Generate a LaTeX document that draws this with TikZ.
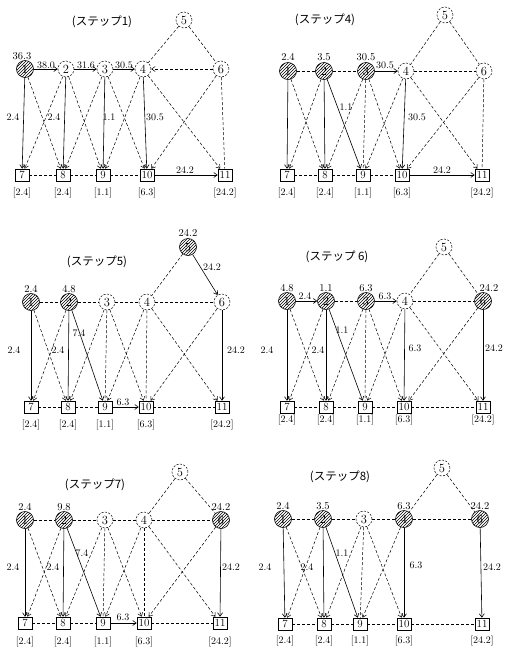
\documentclass[tikz,border=0pt]{standalone}
\usepackage{fontspec}
\newfontfamily\jpfont{Noto Sans CJK JP}
\usetikzlibrary{arrows.meta,patterns}
\begin{document}
\begin{tikzpicture}[x=1pt,y=-1pt,
  pend/.style={circle,draw,dash pattern=on 2pt off 1.5pt,line width=0.5pt,minimum size=16pt,inner sep=0pt,font=\fontsize{12.5}{12.5}\selectfont},
  fixd/.style={circle,draw,line width=0.6pt,pattern=north east lines,minimum size=17pt,inner sep=0pt,font=\fontsize{12.5}{12.5}\selectfont},
  bx/.style={rectangle,draw,line width=0.6pt,minimum width=14pt,minimum height=12pt,inner sep=0pt,font=\fontsize{11}{11}\selectfont},
  lab/.style={inner sep=0pt,font=\fontsize{10}{10}\selectfont},
  val/.style={inner sep=0pt,font=\fontsize{10.5}{10.5}\selectfont},
  res/.style={inner sep=0pt,font=\fontsize{10}{10}\selectfont},
  ttl/.style={inner sep=0pt,font=\jpfont\fontsize{11.5}{11.5}\selectfont},
  tip/.style={-{Straight Barb[length=3.5pt,width=5pt]}},
  fl/.style={draw,line width=0.6pt,tip},
  dl/.style={draw,line width=0.5pt,dash pattern=on 3pt off 2pt},
  da/.style={dl,tip},
]
\useasboundingbox (0,0) rectangle (504,654);

% ---------------- step 1 ----------------
\node[ttl] (ta) at (102,22) {(ステップ1)};
\node[fixd] (a1) at (25,69) {1};
\node[pend] (a2) at (66,69) {2};
\node[pend] (a3) at (105,69) {3};
\node[pend] (a4) at (143,69) {4};
\node[pend] (a5) at (184,20) {5};
\node[pend] (a6) at (221,69) {6};
\node[bx] (a7) at (22,175) {7};
\node[bx] (a8) at (63,175) {8};
\node[bx] (a9) at (103,175) {9};
\node[bx] (a10) at (147,175) {10};
\node[bx] (a11) at (225,175) {11};
\node[res] (ra7) at (22,193) {[2.4]};
\node[res] (ra8) at (63,193) {[2.4]};
\node[res] (ra9) at (103,193) {[1.1]};
\node[res] (ra10) at (147,193) {[6.3]};
\node[res] (ra11) at (225,193) {[24.2]};
\node[val] (va1) at (22,56) {36.3};
\draw[fl] (a1) -- (a2);
\draw[fl] (a2) -- (a3);
\draw[fl] (a3) -- (a4);
\draw[fl] (a1) -- (a7);
\draw[fl] (a2) -- (a8);
\draw[fl] (a3) -- (a9);
\draw[fl] (a4) -- (a10);
\draw[fl] (a10) -- (a11);
\draw[dl] (a5) -- (a4);
\draw[dl] (a5) -- (a6);
\draw[dl] (a6) -- (a11);
\draw[dl] (a7) -- (a8);
\draw[dl] (a8) -- (a9);
\draw[dl] (a9) -- (a10);
\draw[da] (a6) -- (a4);
\draw[da] (a2) -- (a7);
\draw[da] (a1) -- (a8);
\draw[da] (a3) -- (a8);
\draw[da] (a2) -- (a9);
\draw[da] (a4) -- (a9);
\draw[da] (a3) -- (a10);
\draw[da] (a6) -- (a10);
\draw[da] (a4) -- (a11);
\node[lab] (la12) at (46,65) {38.0};
\node[lab] (la23) at (86,65) {31.6};
\node[lab] (la34) at (124,65) {30.5};
\node[lab] (la17) at (13,117) {2.4};
\node[lab] (la28) at (54,117) {2.4};
\node[lab] (la39) at (109,117) {1.1};
\node[lab] (la410) at (155,117) {30.5};
\node[lab] (la1011) at (185,170) {24.2};

% ---------------- step 4 ----------------
\node[ttl] (tb) at (325,20) {(ステップ4)};
\node[fixd] (b1) at (288,71) {1};
\node[fixd] (b2) at (324,71) {2};
\node[fixd] (b3) at (366,71) {3};
\node[pend] (b4) at (406,71) {4};
\node[pend] (b5) at (445,15) {5};
\node[pend] (b6) at (484,71) {6};
\node[bx] (b7) at (287,175) {7};
\node[bx] (b8) at (325,175) {8};
\node[bx] (b9) at (363,175) {9};
\node[bx] (b10) at (402,175) {10};
\node[bx] (b11) at (482,175) {11};
\node[res] (rb7) at (287,193) {[2.4]};
\node[res] (rb8) at (325,193) {[2.4]};
\node[res] (rb9) at (363,193) {[1.1]};
\node[res] (rb10) at (402,193) {[6.3]};
\node[res] (rb11) at (482,193) {[24.2]};
\node[val] (vb1) at (288,57) {2.4};
\node[val] (vb2) at (324,57) {3.5};
\node[val] (vb3) at (366,57) {30.5};
\draw[fl] (b1) -- (b7);
\draw[fl] (b2) -- (b8);
\draw[fl] (b2) -- (b9);
\draw[fl] (b3) -- (b4);
\draw[fl] (b4) -- (b10);
\draw[fl] (b10) -- (b11);
\draw[dl] (b1) -- (b2);
\draw[dl] (b2) -- (b3);
\draw[dl] (b4) -- (b6);
\draw[dl] (b5) -- (b4);
\draw[dl] (b5) -- (b6);
\draw[dl] (b6) -- (b11);
\draw[dl] (b3) -- (b9);
\draw[dl] (b7) -- (b8);
\draw[dl] (b8) -- (b9);
\draw[dl] (b9) -- (b10);
\draw[da] (b2) -- (b7);
\draw[da] (b1) -- (b8);
\draw[da] (b3) -- (b8);
\draw[da] (b4) -- (b9);
\draw[da] (b3) -- (b10);
\draw[da] (b6) -- (b10);
\draw[da] (b4) -- (b11);
\node[lab] (lb34) at (385,65) {30.5};
\node[lab] (lb29) at (346,107) {1.1};
\node[lab] (lb410) at (417,117) {30.5};
\node[lab] (lb1011) at (442,170) {24.2};

% ---------------- step 5 ----------------
\node[ttl] (tc) at (97,262) {(ステップ5)};
\node[fixd] (c1) at (31,302) {1};
\node[fixd] (c2) at (69,302) {2};
\node[pend] (c3) at (107,302) {3};
\node[pend] (c4) at (147,302) {4};
\node[fixd] (c5) at (188,247) {5};
\node[pend] (c6) at (222,302) {6};
\node[bx] (c7) at (31,407) {7};
\node[bx] (c8) at (68,407) {8};
\node[bx] (c9) at (105,407) {9};
\node[bx] (c10) at (146,407) {10};
\node[bx] (c11) at (222,407) {11};
\node[res] (rc7) at (31,425) {[2.4]};
\node[res] (rc8) at (68,425) {[2.4]};
\node[res] (rc9) at (105,425) {[1.1]};
\node[res] (rc10) at (146,425) {[6.3]};
\node[res] (rc11) at (222,425) {[24.2]};
\node[val] (vc1) at (31,289) {2.4};
\node[val] (vc2) at (69,289) {4.8};
\node[val] (vc5) at (188,233) {24.2};
\draw[fl] (c1) -- (c7);
\draw[fl] (c2) -- (c8);
\draw[fl] (c2) -- (c9);
\draw[fl] (c5) -- (c6);
\draw[fl] (c6) -- (c11);
\draw[fl] (c9) -- (c10);
\draw[dl] (c1) -- (c2);
\draw[dl] (c2) -- (c3);
\draw[dl] (c3) -- (c4);
\draw[dl] (c4) -- (c6);
\draw[dl] (c5) -- (c4);
\draw[dl] (c3) -- (c9);
\draw[dl] (c4) -- (c10);
\draw[dl] (c7) -- (c8);
\draw[dl] (c8) -- (c9);
\draw[dl] (c10) -- (c11);
\draw[da] (c2) -- (c7);
\draw[da] (c1) -- (c8);
\draw[da] (c3) -- (c8);
\draw[da] (c4) -- (c9);
\draw[da] (c3) -- (c10);
\draw[da] (c6) -- (c10);
\draw[da] (c4) -- (c11);
\node[lab] (lc17) at (14,350) {2.4};
\node[lab] (lc28) at (58,350) {2.4};
\node[lab] (lc29) at (79,333) {7.4};
\node[lab] (lc56) at (212,267) {24.2};
\node[lab] (lc611) at (236,350) {24.2};
\node[lab] (lc910) at (123,402) {6.3};

% ---------------- step 6 ----------------
\node[ttl] (td) at (337,257) {(ステップ 6)};
\node[fixd] (d1) at (287,301) {1};
\node[fixd] (d2) at (326,301) {2};
\node[fixd] (d3) at (366,301) {3};
\node[pend] (d4) at (405,301) {4};
\node[pend] (d5) at (444,247) {5};
\node[fixd] (d6) at (483,301) {6};
\node[bx] (d7) at (287,407) {7};
\node[bx] (d8) at (326,407) {8};
\node[bx] (d9) at (365,407) {9};
\node[bx] (d10) at (404,407) {10};
\node[bx] (d11) at (483,407) {11};
\node[res] (rd7) at (287,420) {[2.4]};
\node[res] (rd8) at (326,420) {[2.4]};
\node[res] (rd9) at (365,420) {[1.1]};
\node[res] (rd10) at (404,420) {[6.3]};
\node[res] (rd11) at (483,420) {[24.2]};
\node[val] (vd1) at (287,288) {4.8};
\node[val] (vd2) at (326,288) {1.1};
\node[val] (vd3) at (366,288) {6.3};
\node[val] (vd6) at (489,288) {24.2};
\draw[fl] (d1) -- (d2);
\draw[fl] (d3) -- (d4);
\draw[fl] (d1) -- (d7);
\draw[fl] (d2) -- (d8);
\draw[fl] (d2) -- (d9);
\draw[fl] (d4) -- (d10);
\draw[fl] (d6) -- (d11);
\draw[dl] (d2) -- (d3);
\draw[dl] (d4) -- (d6);
\draw[dl] (d5) -- (d4);
\draw[dl] (d5) -- (d6);
\draw[dl] (d3) -- (d9);
\draw[dl] (d7) -- (d8);
\draw[dl] (d8) -- (d9);
\draw[dl] (d9) -- (d10);
\draw[dl] (d10) -- (d11);
\draw[da] (d2) -- (d7);
\draw[da] (d1) -- (d8);
\draw[da] (d3) -- (d8);
\draw[da] (d4) -- (d9);
\draw[da] (d3) -- (d10);
\draw[da] (d6) -- (d10);
\draw[da] (d4) -- (d11);
\node[lab] (ld12) at (305,296) {2.4};
\node[lab] (ld34) at (385,296) {6.3};
\node[lab] (ld17) at (267,350) {2.4};
\node[lab] (ld28) at (318,350) {2.4};
\node[lab] (ld29) at (342,330) {1.1};
\node[lab] (ld410) at (415,348) {6.3};
\node[lab] (ld611) at (494,348) {24.2};

% ---------------- step 7 ----------------
\node[ttl] (te) at (95,485) {(ステップ7)};
\node[fixd] (e1) at (25,520) {1};
\node[fixd] (e2) at (64,520) {2};
\node[pend] (e3) at (105,520) {3};
\node[pend] (e4) at (144,520) {4};
\node[pend] (e5) at (180,472) {5};
\node[fixd] (e6) at (221,520) {6};
\node[bx] (e7) at (25,623) {7};
\node[bx] (e8) at (63,623) {8};
\node[bx] (e9) at (103,623) {9};
\node[bx] (e10) at (144,623) {10};
\node[bx] (e11) at (220,623) {11};
\node[res] (re7) at (25,642) {[2.4]};
\node[res] (re8) at (63,642) {[2.4]};
\node[res] (re9) at (103,642) {[1.1]};
\node[res] (re10) at (144,642) {[6.3]};
\node[res] (re11) at (220,642) {[24.2]};
\node[val] (ve1) at (25,507) {2.4};
\node[val] (ve2) at (64,507) {9.8};
\node[val] (ve6) at (221,507) {24.2};
\draw[fl] (e1) -- (e7);
\draw[fl] (e2) -- (e8);
\draw[fl] (e2) -- (e9);
\draw[fl] (e6) -- (e11);
\draw[fl] (e9) -- (e10);
\draw[dl] (e1) -- (e2);
\draw[dl] (e2) -- (e3);
\draw[dl] (e3) -- (e4);
\draw[dl] (e4) -- (e6);
\draw[dl] (e5) -- (e4);
\draw[dl] (e5) -- (e6);
\draw[dl] (e3) -- (e9);
\draw[dl] (e4) -- (e10);
\draw[dl] (e7) -- (e8);
\draw[dl] (e8) -- (e9);
\draw[dl] (e10) -- (e11);
\draw[da] (e2) -- (e7);
\draw[da] (e1) -- (e8);
\draw[da] (e3) -- (e8);
\draw[da] (e4) -- (e9);
\draw[da] (e3) -- (e10);
\draw[da] (e6) -- (e10);
\draw[da] (e4) -- (e11);
\node[lab] (le17) at (13,567) {2.4};
\node[lab] (le28) at (53,567) {2.4};
\node[lab] (le29) at (82,553) {7.4};
\node[lab] (le611) at (231,567) {24.2};
\node[lab] (le910) at (123,617) {6.3};

% ---------------- step 8 ----------------
\node[ttl] (tf) at (340,477) {(ステップ8)};
\node[fixd] (f1) at (283,519) {1};
\node[fixd] (f2) at (323,519) {2};
\node[pend] (f3) at (364,519) {3};
\node[fixd] (f4) at (404,519) {4};
\node[pend] (f5) at (442,468) {5};
\node[fixd] (f6) at (480,519) {6};
\node[bx] (f7) at (285,624) {7};
\node[bx] (f8) at (324,624) {8};
\node[bx] (f9) at (360,624) {9};
\node[bx] (f10) at (404,624) {10};
\node[bx] (f11) at (482,624) {11};
\node[res] (rf7) at (285,641) {[2.4]};
\node[res] (rf8) at (324,641) {[2.4]};
\node[res] (rf9) at (360,641) {[1.1]};
\node[res] (rf10) at (404,641) {[6.3]};
\node[res] (rf11) at (482,641) {[24.2]};
\node[val] (vf1) at (283,506) {2.4};
\node[val] (vf2) at (323,506) {3.5};
\node[val] (vf4) at (404,506) {6.3};
\node[val] (vf6) at (480,506) {24.2};
\draw[fl] (f1) -- (f7);
\draw[fl] (f2) -- (f8);
\draw[fl] (f2) -- (f9);
\draw[fl] (f4) -- (f10);
\draw[fl] (f6) -- (f11);
\draw[dl] (f1) -- (f2);
\draw[dl] (f2) -- (f3);
\draw[dl] (f3) -- (f4);
\draw[dl] (f4) -- (f6);
\draw[dl] (f5) -- (f4);
\draw[dl] (f5) -- (f6);
\draw[dl] (f3) -- (f9);
\draw[dl] (f7) -- (f8);
\draw[dl] (f8) -- (f9);
\draw[dl] (f9) -- (f10);
\draw[dl] (f10) -- (f11);
\draw[da] (f2) -- (f7);
\draw[da] (f1) -- (f8);
\draw[da] (f3) -- (f8);
\draw[da] (f4) -- (f9);
\draw[da] (f3) -- (f10);
\node[lab] (lf17) at (265,567) {2.4};
\node[lab] (lf28) at (307,567) {2.4};
\node[lab] (lf29) at (342,553) {1.1};
\node[lab] (lf410) at (416,565) {6.3};
\node[lab] (lf611) at (492,567) {24.2};
\end{tikzpicture}
\end{document}
